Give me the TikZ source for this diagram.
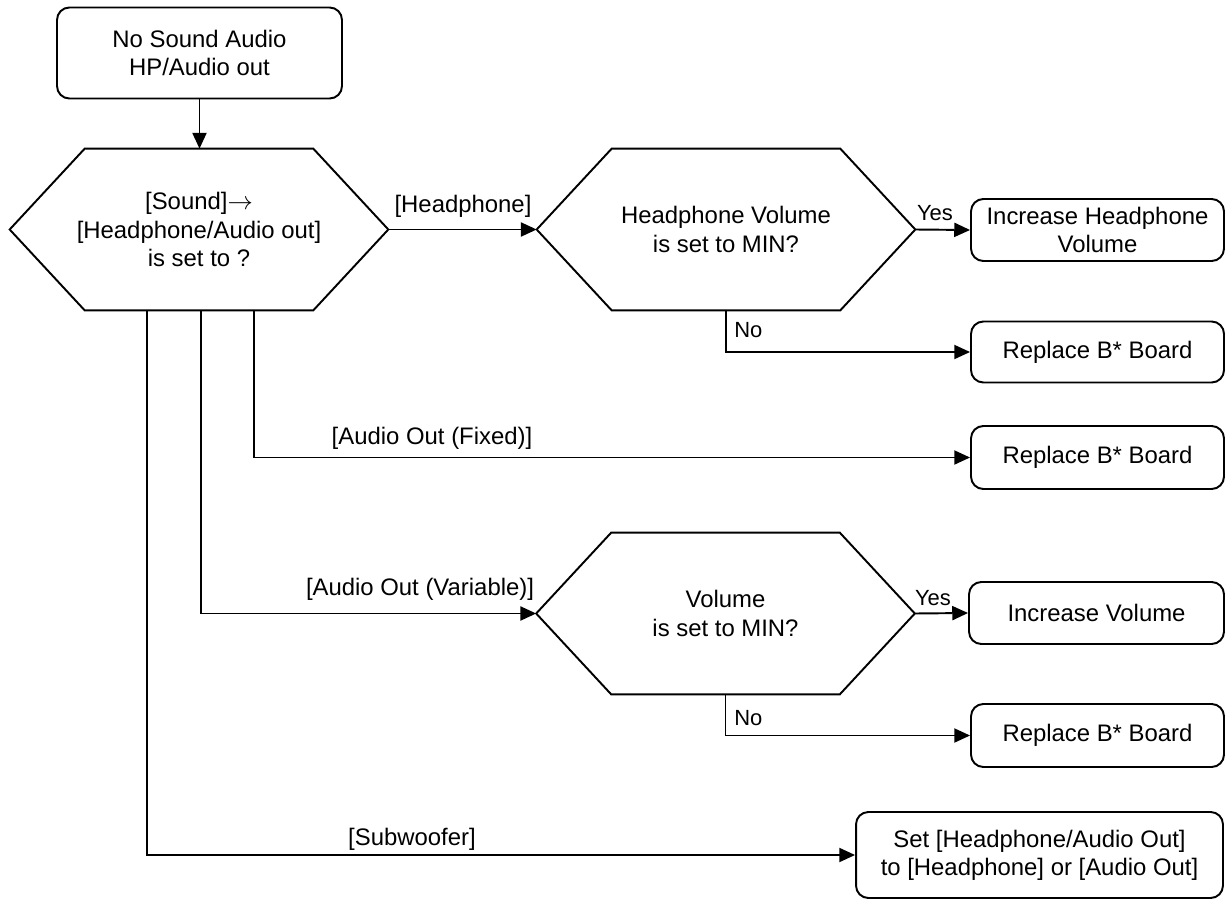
\documentclass[tikz,border=0pt]{standalone}
\usepackage{fontspec}
\setmainfont{Liberation Sans}
\usetikzlibrary{arrows.meta}
\begin{document}
\begin{tikzpicture}[x=0.02cm,y=-0.02cm,
  line/.style={draw=black,line width=1.1pt},
  arr/.style={line,-{Triangle[length=9pt,width=8pt]}},
  txt/.style={font=\fontsize{13.6}{16}\selectfont,align=center},
  box/.style={line,txt,rounded corners=7pt,inner sep=0pt},
  hexnode/.style={txt,minimum width=7.56cm,minimum height=3.22cm,inner sep=0pt},
  elab/.style={font=\fontsize{13.6}{16}\selectfont,inner sep=0pt},
  ynlab/.style={font=\fontsize{12.5}{14}\selectfont,inner sep=0pt}]
\newcommand\drawhex[1]{\draw[line,line join=miter] (#1.west) -- ([xshift=1.5cm]#1.north west) -- ([xshift=-1.5cm]#1.north east) -- (#1.east) -- ([xshift=-1.5cm]#1.south east) -- ([xshift=1.5cm]#1.south west) -- cycle;}
\useasboundingbox (0,0) rectangle (1225,899);
% nodes
\node[box,minimum width=5.7cm,minimum height=1.82cm] (start) at (199.5,53) {No Sound Audio\\HP/Audio out};
\node[hexnode] (d1) at (199,229.5) {[Sound]$\rightarrow$\\{}[Headphone/Audio out]\\is set to ?};
\node[hexnode] (d2) at (726,229.5) {Headphone Volume\\is set to MIN?};
\node[hexnode] (d3) at (725.5,613.5) {Volume\\is set to MIN?};
\drawhex{d1}
\drawhex{d2}
\drawhex{d3}
\node[box,minimum width=5.06cm,minimum height=1.24cm] (b1) at (1097.5,230) {Increase Headphone\\Volume};
\node[box,minimum width=5.06cm,minimum height=1.22cm] (b2) at (1097.5,352) {Replace B* Board};
\node[box,minimum width=5.06cm,minimum height=1.26cm] (b3) at (1097.5,457.5) {Replace B* Board};
\node[box,minimum width=5.1cm,minimum height=1.24cm] (b4) at (1096.5,613) {Increase Volume};
\node[box,minimum width=5.06cm,minimum height=1.26cm] (b5) at (1097.5,735.5) {Replace B* Board};
\node[box,minimum width=7.34cm,minimum height=1.72cm] (b6) at (1039.5,855) {Set [Headphone/Audio Out]\\{}to [Headphone] or [Audio Out]};
% connectors
\draw[arr] (start.south) -- (start.south |- d1.north);
\draw[arr] (d1.east) -- (d2.west);
\draw[arr] (d2.east) -- (b1.west);
\draw[arr] (d2.south) |- (b2.west);
\draw[arr] ([xshift=1.1cm]d1.south) |- (b3.west);
\draw[arr] ([xshift=0.04cm]d1.south) |- (d3.west);
\draw[arr] (d3.east) -- (b4.west);
\draw[arr] (d3.south) |- (b5.west);
\draw[arr] ([xshift=-1.04cm]d1.south) |- (b6.west);
% labels
\node[elab] (lhp) at (463,206) {[Headphone]};
\node[ynlab] (ly1) at (935,213) {Yes};
\node[ynlab,anchor=west] (ln1) at (734,330) {No};
\node[elab] (lfix) at (432,438) {[Audio Out (Fixed)]};
\node[elab] (lvar) at (420,589) {[Audio Out (Variable)]};
\node[ynlab] (ly2) at (933,598) {Yes};
\node[ynlab,anchor=west] (ln2) at (734,718) {No};
\node[elab] (lsub) at (412,839) {[Subwoofer]};
\end{tikzpicture}
\end{document}
